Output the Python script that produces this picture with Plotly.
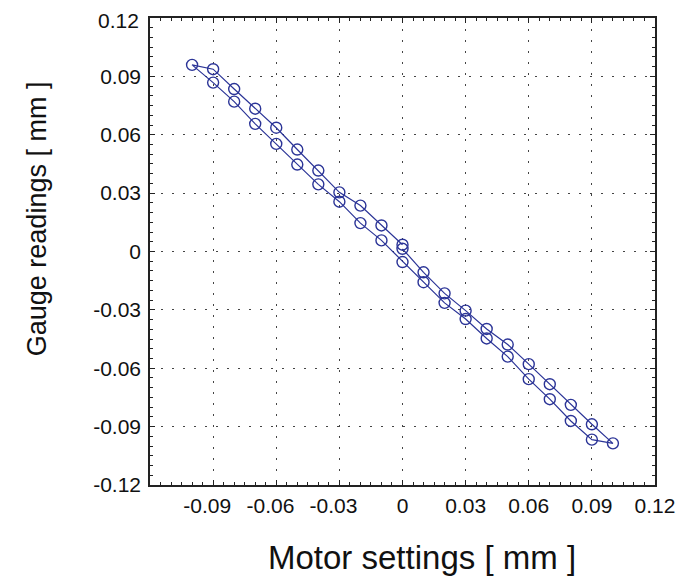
import plotly.graph_objects as go

# Motor settings sequence [mm] (start at 0, out to +0.1, back to -0.1, back to 0)
motor_settings = [0.0, 0.01, 0.02, 0.03, 0.04, 0.05, 0.06, 0.07, 0.08, 0.09, 0.10,
                  0.09, 0.08, 0.07, 0.06, 0.05, 0.04, 0.03, 0.02, 0.01, 0.0,
                  -0.01, -0.02, -0.03, -0.04, -0.05, -0.06, -0.07, -0.08, -0.09, -0.10,
                  -0.09, -0.08, -0.07, -0.06, -0.05, -0.04, -0.03, -0.02, -0.01, 0.0]
# Gauge readings [mm]
gauge_readings = [0.0014, -0.0107, -0.0215, -0.0304, -0.0398, -0.0478, -0.0579, -0.0682, -0.0788, -0.0888, -0.0986,
                  -0.0967, -0.0871, -0.0759, -0.0656, -0.0540, -0.0447, -0.0347, -0.0264, -0.0158, -0.0054,
                  0.0057, 0.0146, 0.0256, 0.0345, 0.0447, 0.0553, 0.0656, 0.0770, 0.0868, 0.0959,
                  0.0937, 0.0835, 0.0734, 0.0636, 0.0524, 0.0416, 0.0304, 0.0236, 0.0134, 0.0035]

NB = "\u00a0"
x_tick_vals = [-0.09, -0.06, -0.03, 0, 0.03, 0.06, 0.09, 0.12]
x_tick_text = ["-0.09" + NB * 2, "-0.06" + NB * 2, "-0.03" + NB * 2, "0", "0.03", "0.06", "0.09", "0.12"]
y_tick_vals = [-0.12, -0.09, -0.06, -0.03, 0, 0.03, 0.06, 0.09, 0.12]
y_tick_text = ["-0.12", "-0.09", "-0.06", "-0.03", "0", "0.03", "0.06", "0.09", ""]
y_top_label = "0.12"

x_title = "Motor settings [ mm ]"
y_title = "Gauge readings [ mm ]"

color = "#2B3497"
font_family = "Liberation Sans, Arial, Helvetica, sans-serif"

fig = go.Figure()
fig.add_trace(go.Scatter(
    x=motor_settings, y=gauge_readings,
    mode="lines+markers",
    line=dict(color=color, width=1.2),
    marker=dict(symbol="circle-open", size=11, color=color, line=dict(width=1.4, color=color)),
    showlegend=False,
))

axis_common = dict(
    showline=True, linecolor="#222222", linewidth=1.5, mirror="ticks",
    ticks="inside", ticklen=5, tickcolor="#222222", tickwidth=1,
    showgrid=True, gridcolor="#444444", gridwidth=1.2, griddash="1.5px,9.5px",
    zeroline=False, automargin=False, ticklabeloverflow="allow",
    minor=dict(dtick=0.005, tick0=0, ticks="inside", ticklen=3, tickcolor="#222222", showgrid=False),
)

tick_font = dict(size=21, color="#111111", family=font_family)

fig.update_xaxes(range=[-0.12, 0.12], tickvals=x_tick_vals, ticktext=x_tick_text,
                 tickfont=tick_font, ticklabelstandoff=1, **axis_common)
fig.update_yaxes(range=[-0.12, 0.12], tickvals=y_tick_vals, ticktext=y_tick_text,
                 tickfont=tick_font, ticklabelstandoff=3, **axis_common)

# top y tick label placed as annotation so it stays inside the page
fig.add_annotation(text=y_top_label, xref="paper", yref="paper", x=0, y=1,
                   xanchor="right", yanchor="middle", xshift=-9, yshift=-2,
                   showarrow=False, font=tick_font)

fig.add_annotation(text=x_title, xref="paper", yref="paper", x=0.538, y=-0.155,
                   xanchor="center", yanchor="middle", showarrow=False,
                   font=dict(size=33, color="#111111", family=font_family))
fig.add_annotation(text=y_title, xref="paper", yref="paper", x=-0.224, y=0.571,
                   xanchor="center", yanchor="middle", showarrow=False, textangle=-90,
                   font=dict(size=27, color="#111111", family=font_family))

# page body has an 8px default margin, so margins are offset by 8px
fig.update_layout(
    width=686, height=576,
    margin=dict(l=142, r=39, t=10, b=99, autoexpand=False),
    paper_bgcolor="white", plot_bgcolor="white",
    font=dict(family=font_family),
)

fig.write_html("out.html")
